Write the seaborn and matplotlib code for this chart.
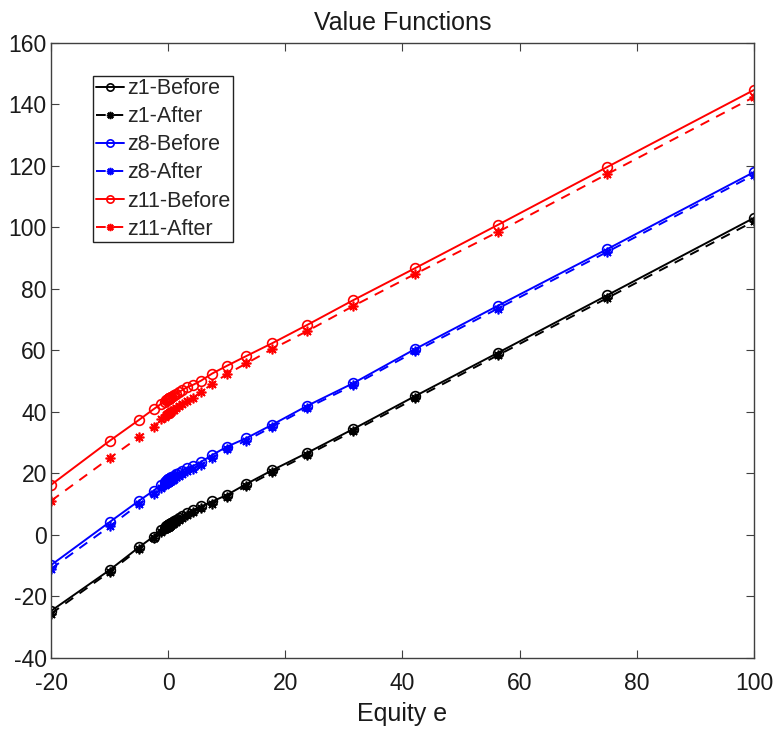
import matplotlib
matplotlib.use("Agg")
import matplotlib.pyplot as plt
import seaborn as sns
import pandas as pd

# Equity grid
equity = [-20, -10, -5, -2.5, -1.25, -0.625, -0.3125, -0.156, -0.078,
          0.032, 0.042, 0.056, 0.075, 0.10, 0.13, 0.18, 0.24, 0.32, 0.42,
          0.56, 0.75, 1.00, 1.34, 1.78, 2.38, 3.17, 4.22, 5.63, 7.51, 10.01,
          13.35, 17.80, 23.73, 31.64, 42.19, 56.25, 75.0, 100.0]

z1_before = [-24.7, -11.4, -4.0, -0.5, 1.6, 2.4, 2.8, 3.0, 3.1,
             3.3, 3.3, 3.3, 3.3, 3.4, 3.4, 3.5, 3.5, 3.7, 3.8,
             4.0, 4.2, 4.5, 4.9, 5.4, 6.1, 7.0, 8.1, 9.3, 10.9, 13.0,
             16.6, 21.1, 26.7, 34.5, 45.2, 59.2, 78.0, 103.1]
z1_after = [-25.6, -12.0, -4.6, -1.1, 1.0, 1.8, 2.2, 2.4, 2.5,
            2.6, 2.6, 2.6, 2.7, 2.8, 2.8, 2.9, 2.9, 3.0, 3.2,
            3.4, 3.6, 3.9, 4.3, 4.8, 5.5, 6.5, 7.5, 8.7, 10.2, 12.4,
            15.9, 20.4, 26.0, 33.8, 44.4, 58.4, 77.1, 102.0]
z8_before = [-9.8, 4.2, 11.1, 14.4, 16.3, 17.2, 17.6, 17.8, 17.9,
             18.1, 18.1, 18.1, 18.1, 18.2, 18.2, 18.3, 18.4, 18.5, 18.6,
             18.8, 19.0, 19.3, 19.7, 20.2, 20.9, 21.7, 22.4, 23.8, 26.0, 28.7,
             31.5, 35.9, 42.0, 49.4, 60.5, 74.5, 93.0, 118.0]
z8_after = [-11.0, 2.8, 10.0, 13.4, 15.3, 16.3, 16.7, 16.9, 17.0,
            17.1, 17.1, 17.1, 17.1, 17.2, 17.2, 17.3, 17.4, 17.5, 17.6,
            17.8, 18.0, 18.3, 18.7, 19.2, 19.9, 20.7, 21.4, 22.9, 25.1, 27.8,
            30.7, 35.2, 41.3, 48.7, 59.7, 73.6, 92.1, 117.1]
z11_before = [16.3, 30.6, 37.4, 40.9, 42.6, 43.4, 43.8, 44.0, 44.1,
              44.3, 44.3, 44.3, 44.3, 44.4, 44.4, 44.5, 44.5, 44.6, 44.8,
              45.0, 45.2, 45.5, 45.9, 46.4, 47.1, 48.0, 48.8, 50.2, 52.5, 55.0,
              58.2, 62.4, 68.3, 76.4, 86.8, 100.8, 119.7, 144.7]
z11_after = [11.1, 25.0, 31.8, 35.2, 37.6, 38.5, 39.0, 39.2, 39.3,
             39.5, 39.5, 39.5, 39.6, 39.6, 39.7, 39.7, 39.8, 39.9, 40.1,
             40.3, 40.5, 40.8, 41.3, 41.8, 42.6, 43.6, 44.6, 46.5, 49.1, 52.3,
             55.8, 60.5, 66.3, 74.5, 84.9, 98.5, 117.4, 142.4]

series_names = ["z1-Before", "z1-After", "z8-Before", "z8-After", "z11-Before", "z11-After"]
series_vals = [z1_before, z1_after, z8_before, z8_after, z11_before, z11_after]
colors = ["black", "black", "blue", "blue", "red", "red"]

x_ticks = [-20, 0, 20, 40, 60, 80, 100]
y_ticks = [-40, -20, 0, 20, 40, 60, 80, 100, 120, 140, 160]

sns.set_theme(style="white")
plt.rcParams["font.family"] = ["Liberation Sans", "DejaVu Sans"]
plt.rcParams["axes.unicode_minus"] = False

fig = plt.figure(figsize=(7.78, 7.37), dpi=100)
ax = fig.add_axes([0.0656, 0.1072, 0.9034, 0.8345])

asterisk = (8, 2, 0)
for name, vals, col in zip(series_names, series_vals, colors):
    before = name.endswith("Before")
    df = pd.DataFrame({"e": equity, "v": vals})
    if before:
        sns.lineplot(data=df, x="e", y="v", ax=ax, color=col, lw=1.4,
                     marker="o", markersize=7, markerfacecolor="none",
                     markeredgecolor=col, markeredgewidth=1.2,
                     label=name, sort=True, estimator=None)
    else:
        sns.lineplot(data=df, x="e", y="v", ax=ax, color=col, lw=1.4,
                     linestyle=(0, (5, 4)),
                     marker=asterisk, markersize=7,
                     markeredgecolor=col, markeredgewidth=1.2,
                     label=name, sort=True, estimator=None)

ax.set_xlim(-20, 100)
ax.set_ylim(-40, 160)
ax.set_xticks(x_ticks)
ax.set_yticks(y_ticks)
ax.tick_params(direction="in", length=6, width=0.8, colors="#404040",
               labelsize=16.5, labelcolor="#1a1a1a", top=True, right=True,
               bottom=True, left=True)
ax.tick_params(axis="y", pad=3)
ax.tick_params(axis="x", pad=10)
for sp in ax.spines.values():
    sp.set_visible(True)
    sp.set_color("#404040")
    sp.set_linewidth(1.0)

ax.set_title("Value Functions", fontsize=18, color="#1a1a1a", pad=9)
ax.set_xlabel("Equity e", fontsize=18, color="#1a1a1a", labelpad=5)
ax.set_ylabel("")

leg = ax.legend(loc="upper left", bbox_to_anchor=(0.06, 0.947), fontsize=15.5,
                frameon=True, fancybox=False, framealpha=1, edgecolor="#222222",
                handlelength=1.3, handletextpad=0.15, labelspacing=0.33,
                borderpad=0.12, borderaxespad=0.0, markerscale=0.75)
leg.get_frame().set_linewidth(1.0)

fig.savefig("out.png", dpi=100)
